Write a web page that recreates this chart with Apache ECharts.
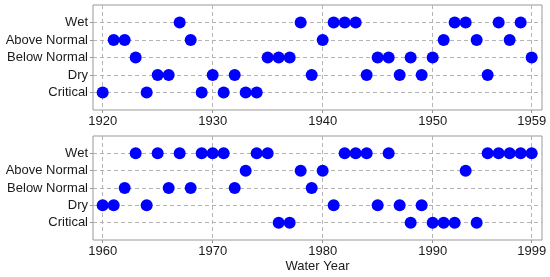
<!DOCTYPE html>
<html>
<head>
<meta charset="utf-8">
<script src="https://cdn.jsdelivr.net/npm/echarts@6/dist/echarts.min.js"></script>
</head>
<body style="margin:0">
<div id="chart" style="width:550px;height:277px"></div>
<script type="text/javascript">

    // year types, 1 = Critical ... 5 = Wet
    var yearTypes = ['Critical', 'Dry', 'Below Normal', 'Above Normal', 'Wet'];

    // 1920 - 1959
    var topCritical = [1920, 1924, 1929, 1931, 1933, 1934];
    var topDry = [1925, 1926, 1930, 1932, 1939, 1944, 1947, 1949, 1955];
    var topBelow = [1923, 1935, 1936, 1937, 1945, 1946, 1948, 1950, 1959];
    var topAbove = [1921, 1922, 1928, 1940, 1951, 1954, 1957];
    var topWet = [1927, 1938, 1941, 1942, 1943, 1952, 1953, 1956, 1958];

    // 1960 - 1999
    var botCritical = [1976, 1977, 1988, 1990, 1991, 1992, 1994];
    var botDry = [1960, 1961, 1964, 1981, 1985, 1987, 1989];
    var botBelow = [1962, 1966, 1968, 1972, 1979];
    var botAbove = [1973, 1978, 1980, 1993];
    var botWet = [1963, 1965, 1967, 1969, 1970, 1971, 1974, 1975, 1982, 1983, 1984, 1986, 1995, 1996, 1997, 1998, 1999];

    var topTicks = [1920, 1930, 1940, 1950, 1959];
    var botTicks = [1960, 1970, 1980, 1990, 1999];

    function toPoints(groups) {
        var pts = [];
        groups.forEach(function (years, i) {
            years.forEach(function (y) {
                pts.push([y, i + 1]);
            });
        });
        return pts;
    }

    var txt = '#1a1a1a';
    var gridColor = '#b4b4b4';

    function xAxis(idx, min, max, ticks, name) {
        return {
            type: 'value', gridIndex: idx, min: min, max: max,
            name: name, nameLocation: 'middle', nameGap: 20,
            nameTextStyle: {color: txt, fontSize: 13, fontFamily: 'Liberation Sans'},
            axisLine: {show: false},
            axisTick: {show: true, customValues: ticks, length: 3, lineStyle: {color: '#999'}},
            axisLabel: {
                customValues: ticks, color: txt, fontSize: 13, margin: 5, fontFamily: 'Liberation Sans',
                formatter: function (v) { return String(v); }
            },
            splitLine: {show: true, lineStyle: {color: gridColor, type: [4, 3]}}
        };
    }

    function yAxis(idx) {
        return {
            type: 'value', gridIndex: idx, min: 0, max: 6,
            axisLine: {show: false},
            axisTick: {show: true, customValues: [1, 2, 3, 4, 5], length: 3, lineStyle: {color: '#999'}},
            axisLabel: {
                customValues: [1, 2, 3, 4, 5], color: txt, fontSize: 13, margin: 5,
                fontFamily: 'Liberation Sans',
                formatter: function (v) { return yearTypes[v - 1] || ''; }
            },
            splitLine: {show: true, lineStyle: {color: gridColor, type: [4, 3]}}
        };
    }

    var option = {
        animation: false,
        grid: [
            {left: 93, top: 5, width: 449, height: 105, show: true, borderColor: '#999', borderWidth: 1, backgroundColor: 'transparent'},
            {left: 93, top: 136, width: 449, height: 104, show: true, borderColor: '#999', borderWidth: 1, backgroundColor: 'transparent'}
        ],
        xAxis: [
            xAxis(0, 1919.12, 1959.94, topTicks, ''),
            xAxis(1, 1959.12, 1999.94, botTicks, 'Water Year')
        ],
        yAxis: [yAxis(0), yAxis(1)],
        series: [
            {
                type: 'scatter', xAxisIndex: 0, yAxisIndex: 0, symbolSize: 12,
                itemStyle: {color: '#0000ff', opacity: 1},
                data: toPoints([topCritical, topDry, topBelow, topAbove, topWet])
            },
            {
                type: 'scatter', xAxisIndex: 1, yAxisIndex: 1, symbolSize: 12,
                itemStyle: {color: '#0000ff', opacity: 1},
                data: toPoints([botCritical, botDry, botBelow, botAbove, botWet])
            }
        ]
    };

    var myChart = echarts.init(document.getElementById('chart'));
    myChart.setOption(option);
</script>
</body>
</html>
